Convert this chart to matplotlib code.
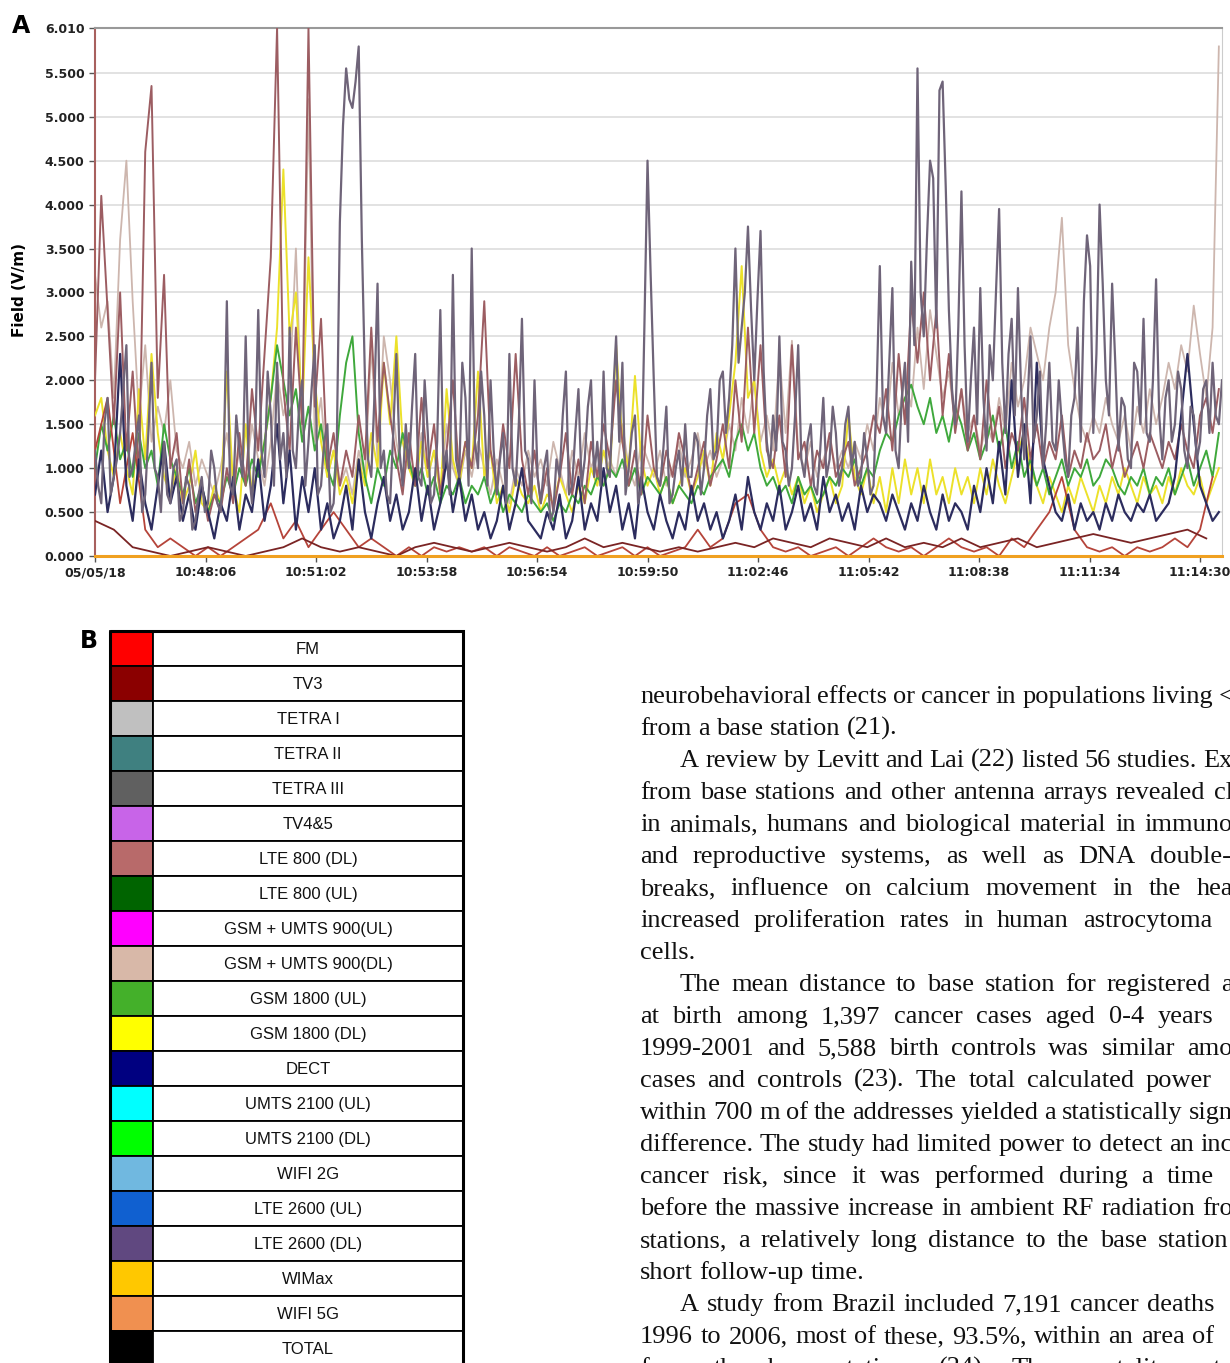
import numpy as np
import matplotlib
matplotlib.use("Agg")
import matplotlib.pyplot as plt
from matplotlib.patches import Rectangle

# ---- panel A data: field strength (V/m) ----
step_fast = 5    # seconds between samples
step_fine = 10
step_mid = 20
step_slow = 30

purple = [1.2, 0.8, 0.6, 1.5, 1.8, 0.7, 0.9, 1.1, 1.4, 1.9, 2.4, 0.9, 1.0, 1.3, 1.6, 0.5, 0.7, 1.4, 2.2, 1.0,
          0.9, 0.5, 1.3, 0.7, 0.6, 1.0, 1.1, 0.4, 0.5, 0.9, 0.8, 0.3, 0.4, 0.7, 0.9, 0.5, 0.6, 1.2, 1.0, 0.6,
          0.5, 1.1, 2.9, 0.8, 0.7, 1.6, 1.2, 0.9, 2.5, 1.0, 0.6, 1.3, 2.8, 1.2, 0.9, 2.1, 1.6, 0.8, 2.2, 1.1,
          1.4, 0.9, 2.6, 1.2, 1.0, 1.7, 2.0, 0.8, 1.3, 1.9, 2.4, 0.7, 0.8, 1.3, 1.5, 0.5, 0.6, 1.2, 3.8, 4.9,
          5.55, 5.2, 5.1, 5.4, 5.8, 3.6, 2.0, 1.1, 0.9, 1.8, 3.1, 1.0, 1.2, 0.7, 0.6, 1.4, 2.3, 1.2, 0.8, 1.5,
          1.0, 1.7, 2.3, 0.9, 0.8, 2.0, 1.4, 0.6, 0.7, 1.3, 2.8, 1.0, 1.2, 0.7, 3.2, 1.1, 0.9, 2.2, 1.8, 0.8,
          3.5, 1.3, 1.0, 2.1, 1.6, 0.8, 2.0, 1.2, 0.7, 1.1, 1.4, 0.6, 2.3, 1.0, 0.8, 1.5, 2.7, 1.2, 1.1, 0.6,
          2.0, 0.9, 0.6, 1.0, 1.2, 0.4, 0.5, 1.1, 0.9, 1.6, 2.1, 0.7, 0.8, 1.4, 1.9, 0.8, 1.1, 1.7, 2.0, 0.9,
          1.3, 0.8, 2.1, 1.0, 0.9, 1.8, 2.5, 1.3, 2.2, 0.7, 1.0, 1.4, 1.6, 0.6, 0.8, 2.6, 4.5, 3.2, 2.0, 0.9,
          0.8, 1.2, 1.7, 0.6, 0.7, 1.0, 1.2, 0.8, 1.5, 0.9, 0.9, 1.4, 1.3, 0.7, 1.0, 1.6, 1.9, 1.1, 1.2, 2.0,
          2.1, 1.4, 1.8, 2.4, 3.5, 2.2, 2.6, 3.0, 3.75, 2.8, 2.0, 2.9, 3.7, 2.1, 1.3, 1.0, 1.6, 1.2, 2.5, 1.3,
          1.2, 0.8, 1.0, 1.6, 2.4, 1.1, 0.9, 1.3, 1.5, 0.8, 0.7, 1.2, 1.8, 0.9, 1.1, 1.7, 1.4, 0.8, 1.0, 1.5,
          1.7, 1.0, 1.3, 0.8, 0.9, 1.4, 1.1, 0.7, 0.8, 1.9, 3.3, 1.6, 1.4, 2.2, 3.05, 1.2, 1.0, 1.8, 2.2, 1.3,
          3.35, 2.4, 5.55, 3.0, 2.5, 3.6, 4.5, 4.3, 2.6, 5.3, 5.4, 4.2, 2.8, 1.9, 1.5, 2.6, 4.15, 2.4, 1.3, 2.0,
          2.6, 1.5, 3.05, 1.8, 1.2, 2.4, 2.0, 3.0, 3.95, 2.2, 1.4, 2.3, 2.7, 1.6, 3.05, 1.9, 1.1, 1.7, 2.5, 1.3,
          1.6, 2.1, 1.0, 1.5, 2.2, 1.3, 1.2, 2.0, 1.5, 1.1, 0.9, 1.6, 1.8, 2.6, 1.3, 2.9, 3.65, 3.3, 1.4, 2.3,
          4.0, 3.1, 2.0, 1.6, 3.1, 2.2, 1.2, 1.8, 1.7, 1.1, 1.0, 2.2, 2.1, 1.5, 2.7, 1.4, 1.3, 2.0, 3.15, 1.6,
          1.1, 1.8, 2.0, 1.3, 1.5, 2.1, 1.9, 1.2, 1.0, 1.7, 1.6, 1.1, 1.3, 1.9, 2.0, 1.4, 2.2, 1.6, 1.5, 2.0]

navy = [0.7, 1.2, 0.5, 0.9, 2.3, 0.8, 0.4, 1.1, 0.6, 0.3,
        0.8, 1.3, 0.6, 0.9, 0.4, 0.7, 0.3, 0.8, 0.5, 0.2,
        0.6, 0.4, 0.9, 0.3, 0.7, 0.5, 1.1, 0.4, 0.8, 1.5,
        0.6, 1.2, 0.3, 0.9, 0.5, 1.0, 0.3, 0.6, 0.2, 0.4,
        0.8, 0.3, 1.1, 0.5, 0.2, 0.6, 0.9, 0.4, 0.7, 0.3,
        0.5, 1.0, 0.4, 0.8, 0.3, 0.6, 1.1, 0.5, 0.9, 0.4,
        0.7, 0.3, 0.5, 0.2, 0.4, 0.8, 0.3, 0.6, 1.0, 0.4,
        0.3, 0.2, 0.5, 0.3, 0.7, 0.2, 0.4, 0.9, 0.3, 0.6,
        0.4, 1.0, 0.5, 0.8, 0.3, 0.6, 0.2, 0.9, 0.5, 0.3,
        0.7, 0.4, 0.2, 0.5, 0.3, 0.8, 0.4, 0.6, 0.3, 0.5,
        0.2, 0.4, 0.7, 0.3, 0.9, 0.5, 0.3, 0.6, 0.4, 0.8,
        0.3, 0.5, 0.8, 0.4, 0.6, 0.3, 0.9, 0.5, 0.7, 0.4,
        0.6, 0.3, 0.8, 0.5, 0.7, 0.6, 0.4, 0.7, 0.5, 0.3,
        0.6, 0.4, 0.8, 0.5, 0.3, 0.7, 0.4, 0.6, 0.5, 0.3,
        0.8, 0.5, 1.0, 0.6, 1.3, 0.7, 2.0, 0.9, 1.5, 0.6,
        2.2, 1.1, 0.8, 0.5, 0.4, 0.7, 0.3, 0.6, 0.4, 0.5,
        0.3, 0.6, 0.4, 0.7, 0.5, 0.4, 0.6, 0.5, 0.7, 0.4,
        0.5, 0.6, 0.9, 1.6, 2.3, 1.5, 0.8, 0.6, 0.4, 0.5]

mauve = [2.0, 4.1, 2.8, 1.5, 3.0, 1.2, 2.1, 0.9, 4.6, 5.35,
         1.8, 3.2, 1.0, 1.4, 0.6, 1.1, 0.5, 0.8, 0.4, 0.7,
         0.5, 1.0, 0.6, 1.4, 0.8, 1.9, 1.2, 2.3, 3.4, 6.01,
         1.9, 1.2, 2.6, 1.5, 6.01, 1.7, 2.7, 1.0, 1.4, 0.8,
         1.2, 0.9, 1.6, 1.1, 2.6, 1.3, 2.2, 1.6, 1.1, 0.7,
         1.4, 0.8, 1.8, 1.0, 1.5, 0.7, 1.2, 2.0, 0.9, 1.3,
         1.0, 1.6, 2.9, 1.2, 0.8, 1.5, 1.0, 2.3, 1.1, 0.7,
         1.2, 0.6, 1.0, 0.5, 0.9, 1.4, 0.7, 1.1, 0.6, 1.3,
         0.9, 1.5, 1.1, 2.0, 1.3, 0.8, 1.2, 0.7, 1.6, 1.0,
         0.8, 1.2, 0.9, 1.4, 1.1, 0.7, 1.0, 1.3, 0.8, 1.1,
         1.5, 1.0, 2.0, 1.3, 2.6, 1.4, 2.4, 1.2, 1.0, 1.6,
         0.9, 2.4, 1.1, 1.3, 0.8, 1.2, 1.0, 1.4, 0.9, 1.1,
         1.3, 0.8, 1.0, 1.2, 1.6, 1.4, 1.9, 1.2, 2.3, 1.5,
         2.9, 2.2, 3.0, 2.0, 2.8, 1.6, 2.3, 1.4, 1.9, 1.2,
         1.6, 1.1, 2.0, 1.3, 1.7, 1.0, 1.4, 1.2, 1.8, 1.1,
         1.5, 1.0, 1.3, 1.1, 1.6, 0.9, 1.2, 1.0, 1.4, 1.1,
         1.2, 1.5, 1.0, 1.3, 0.9, 1.1, 1.3, 1.0, 1.4, 1.2,
         1.0, 1.3, 1.1, 1.5, 1.2, 1.0, 1.6, 1.8, 1.4, 1.9]

beige = [3.2, 2.6, 2.9, 1.8, 3.6, 4.5, 2.9, 1.6, 2.4, 1.3,
         1.7, 1.4, 2.0, 1.2, 1.0, 1.3, 0.8, 1.1, 0.9, 0.7,
         1.0, 1.4, 0.8, 1.2, 0.9, 1.5, 1.1, 0.8, 1.3, 2.1,
         1.6, 1.9, 3.5, 1.4, 5.2, 1.3, 1.8, 0.9, 1.2, 0.8,
         1.0, 0.7, 1.2, 0.9, 2.4, 1.1, 2.5, 2.0, 1.3, 0.9,
         1.1, 0.8, 1.4, 0.9, 1.2, 0.7, 1.5, 1.0, 0.8, 1.2,
         0.9, 1.3, 1.0, 0.7, 1.1, 0.8, 0.6, 1.0, 0.8, 1.2,
         0.9, 1.1, 0.8, 1.3, 1.0, 0.7, 1.2, 0.9, 1.4, 1.0,
         1.2, 0.8, 1.1, 0.9, 1.5, 1.0, 0.8, 1.3, 1.1, 0.9,
         1.2, 0.8, 1.0, 1.3, 0.9, 1.1, 1.4, 1.0, 1.2, 0.9,
         1.1, 1.5, 1.2, 1.8, 1.4, 2.0, 1.3, 1.6, 1.2, 2.3,
         1.4, 2.45, 1.2, 1.0, 1.3, 0.9, 1.1, 1.3, 1.0, 1.2,
         1.0, 1.3, 1.1, 1.5, 1.2, 1.8, 1.4, 2.2, 1.6, 2.0,
         1.7, 2.6, 1.9, 2.8, 2.3, 1.8, 2.1, 1.5, 1.9, 1.4,
         1.6, 1.2, 1.5, 1.3, 1.8, 1.4, 2.2, 1.7, 2.0, 2.6,
         2.3, 2.0, 2.6, 3.0, 3.85, 2.4, 1.9, 1.5, 1.3, 1.6,
         1.4, 1.8, 1.5, 1.3, 1.6, 1.2, 1.7, 1.4, 1.9, 1.5,
         1.8, 2.2, 1.9, 2.4, 2.1, 2.85, 2.3, 1.8, 2.6, 5.8]

yellow = [1.6, 1.8, 1.2, 0.9, 1.4, 1.0, 0.7, 1.9, 1.1, 2.3,
          1.4, 0.9, 0.7, 1.0, 0.6, 0.8, 1.2, 0.6, 0.5, 0.8,
          0.6, 2.1, 0.8, 0.5, 1.5, 0.7, 1.0, 1.3, 1.8, 2.6,
          4.4, 2.5, 3.0, 1.6, 3.4, 2.0, 1.3, 0.9, 1.2, 0.7,
          0.9, 0.6, 1.1, 0.8, 1.4, 1.0, 2.2, 1.5, 2.5, 1.3,
          1.0, 0.8, 1.3, 0.9, 1.2, 0.7, 1.9, 1.1, 0.8, 1.3,
          1.0, 2.1, 0.9, 1.2, 0.6, 0.8, 0.5, 0.9, 0.7, 0.6,
          0.8, 0.5, 0.7, 0.6, 0.9, 0.7, 0.5, 0.8, 0.6, 1.0,
          0.8, 1.2, 0.9, 2.4, 1.3, 1.0, 2.05, 1.1, 0.8, 1.0,
          0.7, 0.9, 0.6, 0.8, 1.0, 0.7, 0.9, 1.2, 0.8, 1.4,
          1.1, 1.6, 2.2, 3.3, 1.8, 2.0, 1.2, 0.9, 1.1, 0.8,
          1.0, 0.7, 0.9, 0.6, 0.8, 0.5, 0.7, 0.9, 0.6, 0.8,
          1.6, 0.9, 0.7, 1.0, 0.6, 0.9, 0.5, 1.0, 0.6, 1.1,
          0.7, 1.0, 0.6, 1.1, 0.7, 0.9, 0.6, 1.0, 0.7, 0.9,
          0.6, 1.0, 0.7, 1.1, 0.8, 0.6, 0.9, 1.2, 1.4, 1.0,
          0.8, 0.6, 0.9, 0.7, 0.5, 0.8, 0.6, 0.9, 0.7, 0.5,
          0.8, 0.6, 0.9, 0.7, 1.0, 0.8, 0.6, 0.9, 0.7, 0.8,
          0.6, 0.9, 0.7, 1.0, 0.8, 0.7, 0.9, 0.6, 0.8, 1.0]

green = [1.0, 1.5, 1.2, 1.6, 1.1, 1.3, 0.9, 1.4, 1.0, 1.2,
         0.8, 1.5, 1.1, 0.9, 0.7, 1.0, 0.6, 0.8, 0.5, 0.7,
         0.6, 0.9, 0.7, 1.0, 0.8, 1.1, 0.9, 1.3, 1.8, 2.4,
         2.0, 1.6, 1.9, 1.3, 1.7, 1.2, 1.5, 1.0, 0.8, 1.6,
         2.2, 2.5, 1.4, 0.9, 0.6, 1.0, 0.8, 1.2, 1.0, 1.4,
         1.1, 0.8, 1.0, 0.7, 0.9, 0.6, 0.8, 0.7, 0.9, 0.6,
         0.8, 0.7, 0.9, 0.6, 0.8, 0.5, 0.7, 0.6, 0.5, 0.7,
         0.6, 0.5, 0.6, 0.4, 0.6, 0.5, 0.7, 0.6, 0.8, 0.7,
         0.9, 0.8, 1.0, 0.9, 1.1, 0.8, 1.0, 0.7, 0.9, 0.8,
         0.7, 0.9, 0.6, 0.8, 0.7, 0.6, 0.8, 0.7, 0.9, 1.0,
         1.1, 0.9, 1.3, 1.5, 1.2, 1.4, 1.0, 0.8, 0.9, 0.7,
         0.8, 0.6, 0.9, 0.7, 0.8, 0.6, 0.7, 0.9, 0.8, 1.0,
         0.9, 1.1, 0.8, 1.0, 0.9, 1.2, 1.4, 1.3, 1.6, 1.8,
         1.95, 1.7, 1.5, 1.8, 1.4, 1.6, 1.3, 1.7, 1.5, 1.2,
         1.4, 1.1, 1.3, 1.6, 1.2, 1.5, 1.0, 1.3, 0.9, 1.1,
         0.8, 1.0, 0.7, 0.9, 1.1, 0.8, 1.0, 0.9, 1.1, 0.8,
         0.9, 1.1, 1.0, 0.8, 0.7, 0.9, 0.8, 1.0, 0.7, 0.9,
         0.8, 1.0, 0.7, 0.9, 1.1, 0.8, 1.0, 1.2, 0.9, 1.4]

red = [1.2, 1.8, 0.6, 1.4, 0.3, 0.1, 0.2, 0.1, 0.0, 0.1,
       0.0, 0.1, 0.2, 0.3, 0.6, 0.2, 0.4, 0.1, 0.3, 0.5,
       0.3, 0.1, 0.2, 0.1, 0.0, 0.1, 0.0, 0.1, 0.05, 0.1,
       0.05, 0.1, 0.0, 0.1, 0.05, 0.0, 0.1, 0.0, 0.05, 0.1,
       0.0, 0.05, 0.1, 0.0, 0.1, 0.0, 0.05, 0.1, 0.3, 0.1,
       0.2, 0.6, 0.7, 0.3, 0.1, 0.05, 0.1, 0.0, 0.05, 0.1,
       0.0, 0.1, 0.2, 0.1, 0.05, 0.1, 0.0, 0.1, 0.2, 0.1,
       0.05, 0.1, 0.0, 0.2, 0.1, 0.3, 0.5, 0.9, 0.3, 0.1,
       0.05, 0.1, 0.0, 0.1, 0.05, 0.1, 0.2, 0.1, 0.3, 0.9]

darkred = [0.4, 0.3, 0.1, 0.05, 0.0, 0.05, 0.1, 0.05, 0.0, 0.05,
           0.1, 0.2, 0.1, 0.05, 0.1, 0.05, 0.0, 0.1, 0.15, 0.1,
           0.05, 0.1, 0.15, 0.1, 0.05, 0.1, 0.2, 0.1, 0.15, 0.1,
           0.05, 0.1, 0.05, 0.1, 0.15, 0.1, 0.2, 0.15, 0.1, 0.2,
           0.15, 0.1, 0.2, 0.1, 0.15, 0.1, 0.2, 0.1, 0.15, 0.2,
           0.1, 0.15, 0.2, 0.25, 0.2, 0.15, 0.2, 0.25, 0.3, 0.2]

orange = [0.0, 0.0]
orange_t = [0, 1795]

t_end = 1795
tick_sec = [0, 176, 352, 528, 704, 880, 1056, 1232, 1408, 1584, 1760]
tick_lbl = ['05/05/18', '10:48:06', '10:51:02', '10:53:58', '10:56:54', '10:59:50',
            '11:02:46', '11:05:42', '11:08:38', '11:11:34', '11:14:30']
y_ticks = [0, 0.5, 1.0, 1.5, 2.0, 2.5, 3.0, 3.5, 4.0, 4.5, 5.0, 5.5, 6.01]

# ---- panel B legend ----
band_names = ['FM', 'TV3', 'TETRA I', 'TETRA II', 'TETRA III', 'TV4&5', 'LTE 800 (DL)',
              'LTE 800 (UL)', 'GSM + UMTS 900(UL)', 'GSM + UMTS 900(DL)', 'GSM 1800 (UL)',
              'GSM 1800 (DL)', 'DECT', 'UMTS 2100 (UL)', 'UMTS 2100 (DL)', 'WIFI 2G',
              'LTE 2600 (UL)', 'LTE 2600 (DL)', 'WIMax', 'WIFI 5G', 'TOTAL']
band_colors = ['#ff0000', '#8b0000', '#c0c0c0', '#3f8080', '#606060', '#c864e8', '#b86a6a',
               '#006400', '#ff00ff', '#d8b8a8', '#44b02a', '#ffff00', '#000080', '#00ffff',
               '#00ff00', '#70b8e0', '#1060d0', '#604880', '#ffc800', '#f09050', '#000000']

# (indent, text, justified)
body_lines = [
    (0, "neurobehavioral effects or cancer in populations living <", True),
    (0, "from a base station (21).", False),
    (1, "A review by Levitt and Lai (22) listed 56 studies. Ex", True),
    (0, "from base stations and other antenna arrays revealed cl", True),
    (0, "in animals, humans and biological material in immuno", True),
    (0, "and reproductive systems, as well as DNA double-", True),
    (0, "breaks, influence on calcium movement in the hea", True),
    (0, "increased proliferation rates in human astrocytoma", True),
    (0, "cells.", False),
    (1, "The mean distance to base station for registered a", True),
    (0, "at birth among 1,397 cancer cases aged 0-4 years", True),
    (0, "1999-2001 and 5,588 birth controls was similar amo", True),
    (0, "cases and controls (23). The total calculated power", True),
    (0, "within 700 m of the addresses yielded a statistically sign", True),
    (0, "difference. The study had limited power to detect an inc", True),
    (0, "cancer risk, since it was performed during a time", True),
    (0, "before the massive increase in ambient RF radiation fro", True),
    (0, "stations, a relatively long distance to the base station", True),
    (0, "short follow-up time.", False),
    (1, "A study from Brazil included 7,191 cancer deaths", True),
    (0, "1996 to 2006, most of these, 93.5%, within an area of", True),
    (0, "from the base stations (24). The mortality rate", True),
]
line_ends = [1234, 0, 1233, 1233, 1233, 1231, 1233, 1212, 0, 1233, 1213, 1233, 1212,
             1233, 1233, 1214, 1233, 1228, 0, 1214, 1214, 1233]

W, H = 1230, 1363
fig = plt.figure(figsize=(W / 100, H / 100), dpi=100)
fig.patch.set_facecolor('white')

# overlay in pixel units for table and text
ov = fig.add_axes([0, 0, 1, 1])
ov.set_xlim(0, W)
ov.set_ylim(H, 0)
ov.axis('off')

ax = fig.add_axes([95 / W, 1 - 556 / H, 1127 / W, 528 / H])

def tgrid(vals, step):
    return np.arange(len(vals)) * step

ax.plot(tgrid(beige, step_fine), beige, color='#cdb6ae', lw=1.3, zorder=2)
ax.plot(tgrid(yellow, step_fine), yellow, color='#ece12a', lw=1.4, zorder=3)
ax.plot(tgrid(green, step_fine), green, color='#3fa83c', lw=1.4, zorder=4)
ax.plot(tgrid(mauve, step_fine), mauve, color='#9c5d62', lw=1.4, zorder=5)
ax.plot(tgrid(red, step_mid), red, color='#b5443a', lw=1.3, zorder=6)
ax.plot(tgrid(darkred, step_slow), darkred, color='#7a2424', lw=1.3, zorder=6)
ax.plot(tgrid(navy, step_fine), navy, color='#2c2c5e', lw=1.6, zorder=7)
ax.plot(tgrid(purple, step_fast), purple, color='#6f6479', lw=1.6, zorder=8)
ax.plot(orange_t, orange, color='#f0a020', lw=2.2, zorder=9, clip_on=False)

ax.set_xlim(0, t_end)
ax.set_ylim(0, 6.01)
ax.set_yticks(y_ticks)
ax.set_yticklabels(['%.3f' % v for v in y_ticks])
ax.set_xticks(tick_sec)
ax.set_xticklabels(tick_lbl)
ax.grid(axis='y', color='#dddddd', lw=1.2)
ax.set_axisbelow(True)
ax.tick_params(axis='both', labelsize=9, colors='#555555', labelcolor='#222222', length=4, width=1)
for lab in ax.get_xticklabels() + ax.get_yticklabels():
    lab.set_fontweight('bold')
ax.spines['top'].set_color('#999999')
ax.spines['top'].set_linewidth(1.5)
ax.spines['right'].set_color('#cccccc')
ax.spines['left'].set_color('#a8605e')
ax.spines['left'].set_linewidth(1.5)
ax.spines['bottom'].set_color('#999999')

fig.text(12 / W, 1 - 26 / H, 'A', fontsize=17, fontweight='bold', va='center', ha='left')
fig.text(20 / W, 1 - 290 / H, 'Field (V/m)', fontsize=11, fontweight='bold', rotation=90,
         va='center', ha='center')

# ---- panel B table ----
ov.text(80, 641, 'B', fontsize=17, fontweight='bold', va='center', ha='left')
row_h = 35
top0 = 631
for k, (name, col) in enumerate(zip(band_names, band_colors)):
    top = top0 + row_h * k
    ov.add_patch(Rectangle((110, top), 43, row_h, facecolor=col, edgecolor='black', lw=1.3))
    ov.add_patch(Rectangle((153, top), 310, row_h, facecolor='white', edgecolor='black', lw=1.3))
    ov.text(308, top + row_h / 2 + 1, name, fontsize=12, family='Liberation Sans',
            ha='center', va='center', color='#111111')
ov.add_patch(Rectangle((110, top0), 353, row_h * len(band_names), fill=False,
                       edgecolor='black', lw=2.2))

# ---- body text on the right, justified word by word ----
renderer = fig.canvas.get_renderer()
style = dict(fontsize=19, family='Liberation Serif', ha='left', va='baseline', color='#111111')
probe = ov.text(0, 0, 'n n', **style)
probe2 = ov.text(0, 0, 'nn', **style)
space_w = probe.get_window_extent(renderer).width - probe2.get_window_extent(renderer).width
probe.remove()
probe2.remove()

for j, (indent, line, just) in enumerate(body_lines):
    x0 = 640 + 40 * indent
    yb = 703 + 32 * j
    words = line.split(' ')
    objs = [ov.text(0, yb, w, **style) for w in words]
    widths = [o.get_window_extent(renderer).width for o in objs]
    gap = space_w
    if just and len(words) > 1:
        gap = max((line_ends[j] - x0 - sum(widths)) / (len(words) - 1), space_w * 0.6)
    x = x0
    for o, w in zip(objs, widths):
        o.set_x(x)
        x += w + gap

fig.savefig('out.png', dpi=100)
